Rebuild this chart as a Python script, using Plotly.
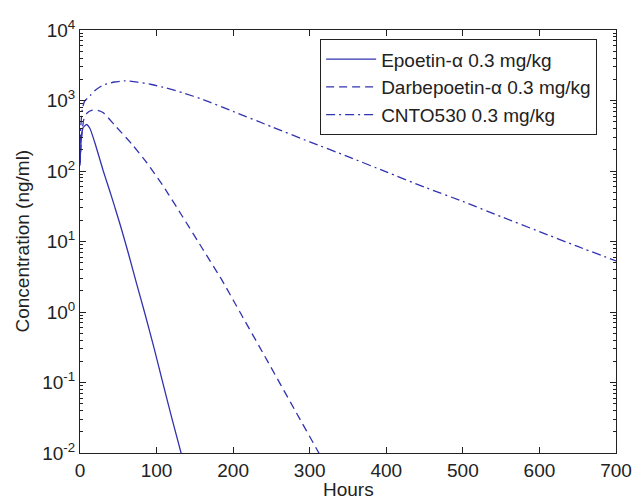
import plotly.graph_objects as go

# Data (hours, ng/ml)
epo_t = [0, 1, 2, 4, 8.5, 13, 19.5, 25, 30.4, 36, 41.3, 48, 54.3, 63.5, 74, 85, 97, 109, 120, 132, 137]
epo_c = [130, 225, 315, 410, 457, 400, 250, 158, 100, 65, 43, 25, 14.8, 6.6, 2.5, 0.93, 0.30, 0.091, 0.031, 0.010, 0.0062]

darb_t = [0, 1, 2, 5, 9, 15, 22, 30, 45.7, 67.4, 87, 111, 133, 160, 185, 200, 213, 244, 280, 312, 318]
darb_c = [120, 200, 300, 540, 660, 725, 730, 676, 442, 243, 132, 56, 23.4, 7.9, 2.88, 1.48, 0.83, 0.209, 0.0417, 0.010, 0.0076]

cnto_t = [0, 1, 3, 6, 13.5, 20, 30, 45, 59, 75, 92, 113, 135, 161, 200, 250, 300, 350, 400, 450, 500, 550, 600, 650, 700]
cnto_c = [130, 420, 750, 980, 1180, 1400, 1650, 1830, 1900, 1820, 1700, 1500, 1280, 1030, 700, 425, 259, 160, 97, 59, 37, 22.5, 13.8, 8.5, 5.3]

x_ticks = [0, 100, 200, 300, 400, 500, 600, 700]
y_ticks = [0.01, 0.1, 1, 10, 100, 1000, 10000]
y_labels = ["10<sup>-2</sup>", "10<sup>-1</sup>", "10<sup>0</sup>", "10<sup>1</sup>",
            "10<sup>2</sup>", "10<sup>3</sup>", "10<sup>4</sup>"]

color = "#3232b0"
ink = "#222222"
font = "Liberation Sans, Arial, sans-serif"
fs = 19

fig = go.Figure()
fig.add_trace(go.Scatter(x=epo_t, y=epo_c, mode="lines", name="Epoetin-α 0.3 mg/kg",
                         line=dict(color=color, width=1.3, shape="spline", smoothing=0.5)))
fig.add_trace(go.Scatter(x=darb_t, y=darb_c, mode="lines", name="Darbepoetin-α 0.3 mg/kg",
                         line=dict(color=color, width=1.3, dash="8px,5px", shape="spline", smoothing=0.5)))
fig.add_trace(go.Scatter(x=cnto_t, y=cnto_c, mode="lines", name="CNTO530 0.3 mg/kg",
                         line=dict(color=color, width=1.3, dash="9px,4px,2px,4px", shape="spline", smoothing=0.5)))

fig.update_layout(
    width=633, height=501,
    margin=dict(l=80, r=17, t=30, b=48),
    paper_bgcolor="white", plot_bgcolor="white",
    font=dict(family=font, size=fs, color=ink),
    showlegend=True,
    legend=dict(x=0.448, y=0.978, xanchor="left", yanchor="top",
                bordercolor=ink, borderwidth=1, bgcolor="white",
                font=dict(family=font, size=fs, color=ink),
                itemwidth=50),
    xaxis=dict(range=[0, 700], tickvals=x_ticks, ticks="inside", ticklen=6,
               tickcolor=ink, showline=True, linecolor=ink, linewidth=1,
               mirror="allticks", showgrid=False, zeroline=False, automargin=False,
               tickfont=dict(family=font, size=fs, color=ink)),
    yaxis=dict(type="log", range=[-2, 4], tickvals=y_ticks, ticktext=y_labels,
               ticks="inside", ticklen=6, tickcolor=ink,
               minor=dict(ticks="inside", ticklen=3, tickcolor=ink, dtick="D1"),
               showline=True, linecolor=ink, linewidth=1,
               mirror="allticks", showgrid=False, zeroline=False, automargin=False,
               tickfont=dict(family=font, size=fs, color=ink)),
    annotations=[
        dict(text="Hours", x=0.5, y=0, xref="paper", yref="paper", xanchor="center",
             yanchor="top", yshift=-24, showarrow=False, font=dict(family=font, size=fs, color=ink)),
        dict(text="Concentration (ng/ml)", x=0, y=0.5, xref="paper", yref="paper",
             xanchor="center", yanchor="middle", xshift=-58, textangle=-90, showarrow=False,
             font=dict(family=font, size=fs, color=ink)),
    ],
)

fig.write_html("out.html")
